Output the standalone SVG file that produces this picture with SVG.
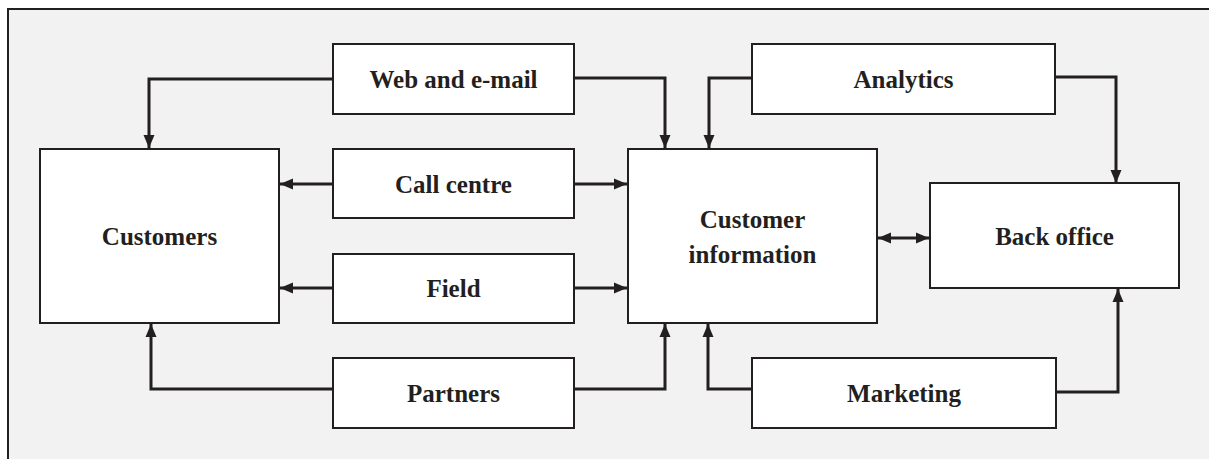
<svg xmlns="http://www.w3.org/2000/svg" width="1209" height="459" viewBox="0 0 1209 459">
<style>
.box{fill:#fff;stroke:#231f20;stroke-width:2}
.lbl{font-family:"Liberation Serif","Times New Roman",serif;font-weight:bold;font-size:25px;fill:#231f20;text-anchor:middle}
.c{fill:none;stroke:#231f20;stroke-width:3}
</style>
<defs>
<marker id="ah" viewBox="0 0 13 12" refX="13" refY="6" markerWidth="13" markerHeight="12" markerUnits="userSpaceOnUse" orient="auto-start-reverse">
<path d="M0,0.5 L13,6 L0,11.5 Z" fill="#231f20"/>
</marker>
</defs>
<rect x="-10" y="-10" width="1230" height="480" fill="#fff"/>
<rect x="8" y="9" width="1220" height="470" fill="#f2f2f2" stroke="#231f20" stroke-width="2"/>
<g id="connectors">
<path class="c" d="M333,79 H149 V148" marker-end="url(#ah)"/>
<path class="c" d="M574,78 H665 V148" marker-end="url(#ah)"/>
<path class="c" d="M752,78 H709 V148" marker-end="url(#ah)"/>
<path class="c" d="M1055,77 H1116 V183" marker-end="url(#ah)"/>
<path class="c" d="M333,184 H280" marker-end="url(#ah)"/>
<path class="c" d="M574,184 H627" marker-end="url(#ah)"/>
<path class="c" d="M333,288 H280" marker-end="url(#ah)"/>
<path class="c" d="M574,288 H627" marker-end="url(#ah)"/>
<path class="c" d="M333,389 H151 V324" marker-end="url(#ah)"/>
<path class="c" d="M574,389 H665 V324" marker-end="url(#ah)"/>
<path class="c" d="M752,389 H708 V324" marker-end="url(#ah)"/>
<path class="c" d="M1056,392 H1118 V289" marker-end="url(#ah)"/>
<path class="c" d="M878,238 H929" marker-start="url(#ah)" marker-end="url(#ah)"/>
</g>
<g id="web"><rect class="box" x="333" y="44" width="241" height="70"/><text class="lbl" x="453.5" y="88">Web and e-mail</text></g>
<g id="customers"><rect class="box" x="40" y="149" width="239" height="174"/><text class="lbl" x="159.5" y="245">Customers</text></g>
<g id="callcentre"><rect class="box" x="333" y="149" width="241" height="69"/><text class="lbl" x="453.5" y="193">Call centre</text></g>
<g id="field"><rect class="box" x="333" y="254" width="241" height="69"/><text class="lbl" x="453.5" y="297">Field</text></g>
<g id="partners"><rect class="box" x="333" y="358" width="241" height="70"/><text class="lbl" x="453.5" y="402">Partners</text></g>
<g id="custinfo"><rect class="box" x="628" y="149" width="249" height="174"/><text class="lbl" x="752.5" y="228">Customer</text><text class="lbl" x="752.5" y="263">information</text></g>
<g id="analytics"><rect class="box" x="752" y="44" width="303" height="70"/><text class="lbl" x="903.5" y="88">Analytics</text></g>
<g id="backoffice"><rect class="box" x="930" y="183" width="249" height="105"/><text class="lbl" x="1054.5" y="245">Back office</text></g>
<g id="marketing"><rect class="box" x="752" y="358" width="304" height="70"/><text class="lbl" x="904" y="402">Marketing</text></g>
</svg>
